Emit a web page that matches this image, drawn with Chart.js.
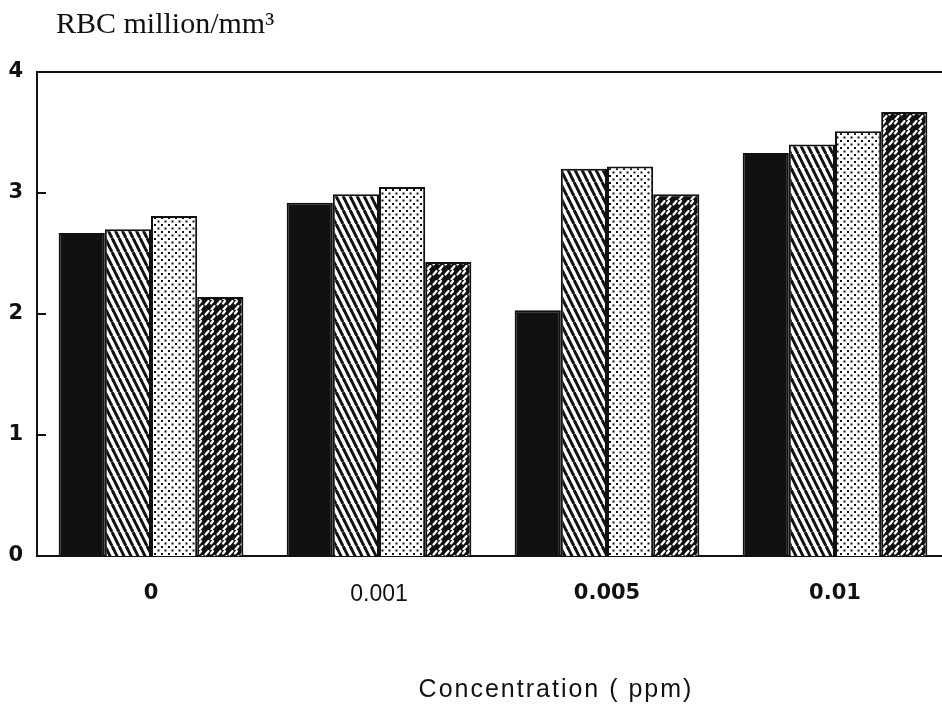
<!DOCTYPE html>
<html lang="en">
<head>
  <meta charset="UTF-8">
  <title>RBC million/mm3</title>
  <script src="https://cdn.jsdelivr.net/npm/chart.js@4.4.1/dist/chart.umd.min.js"></script>
  <style>
    html, body { margin: 0; padding: 0; background: #fff; overflow: hidden; }
    #chart-container { width: 949px; height: 709px; }
  </style>
</head>
<body>
  <div id="chart-container">
    <canvas id="chart-canvas"></canvas>
  </div>
  <script>
    // data
    const concentrations = ['0', '0.001', '0.005', '0.01'];
    const seriesSolid = [2.67, 2.92, 2.03, 3.33];
    const seriesHatched = [2.70, 2.99, 3.20, 3.40];
    const seriesDotted = [2.81, 3.05, 3.22, 3.51];
    const seriesDark = [2.14, 2.43, 2.99, 3.67];
    const yTicks = [0, 1, 2, 3, 4];

    const ink = '#111';
    const boldFont = '"DejaVu Sans", Arial, sans-serif';
    const plainFont = '"Liberation Sans", Arial, sans-serif';

    function makeTile(w, h, draw) {
      const c = document.createElement('canvas');
      c.width = w; c.height = h;
      const g = c.getContext('2d');
      draw(g, w, h);
      return document.getElementById('chart-canvas').getContext('2d').createPattern(c, 'repeat');
    }

    // white with steep "\" stripes
    const hatch = makeTile(7, 14, (g, w, h) => {
      g.fillStyle = '#fff'; g.fillRect(0, 0, w, h);
      g.strokeStyle = ink; g.lineWidth = 3;
      [-w, 0, w].forEach(o => {
        g.beginPath(); g.moveTo(o, 0); g.lineTo(o + w, h); g.stroke();
      });
    });

    // white with staggered dots
    const dots = makeTile(7, 7, (g, w, h) => {
      g.fillStyle = '#fff'; g.fillRect(0, 0, w, h);
      g.fillStyle = ink;
      g.fillRect(0, 0, 2, 2);
      g.fillRect(3.5, 3.5, 2, 2);
    });

    // black with white "/" dashes
    const dark = makeTile(12, 10, (g, w, h) => {
      g.fillStyle = ink; g.fillRect(0, 0, w, h);
      g.strokeStyle = '#fff'; g.lineWidth = 2.2; g.lineCap = 'round';
      g.beginPath(); g.moveTo(1.5, 4.5); g.lineTo(4.5, 1); g.stroke();
      g.beginPath(); g.moveTo(7.5, 9.5); g.lineTo(10.5, 6); g.stroke();
      g.beginPath(); g.moveTo(7, 3.5); g.lineTo(9, 1); g.stroke();
    });

    const frame = {
      id: 'frame',
      afterDraw(chart) {
        const { ctx, chartArea: a, scales } = chart;
        ctx.save();
        ctx.strokeStyle = ink;
        ctx.lineWidth = 2;
        ctx.beginPath();
        ctx.moveTo(a.left, a.top);
        ctx.lineTo(a.right, a.top);
        ctx.stroke();
        // inward tick marks
        yTicks.forEach(v => {
          const y = scales.y.getPixelForValue(v);
          ctx.beginPath();
          ctx.moveTo(a.left, y);
          ctx.lineTo(a.left + 9, y);
          ctx.stroke();
        });
        ctx.fillStyle = ink;
        ctx.textBaseline = 'alphabetic';
        ctx.textAlign = 'left';
        ctx.font = '30px "Liberation Serif", serif';
        ctx.fillText('RBC million/mm\u00b3', 56, 33);
        ctx.textAlign = 'center';
        ctx.font = '25px ' + plainFont;
        ctx.letterSpacing = '2px';
        ctx.fillText('Concentration ( ppm)', 556, 697);
        ctx.restore();
      }
    };

    const bar = (data, fill) => ({
      data: data,
      backgroundColor: fill,
      borderColor: ink,
      borderWidth: 2,
      categoryPercentage: 0.81,
      barPercentage: 1.0
    });

    new Chart(document.getElementById('chart-canvas'), {
      type: 'bar',
      data: {
        labels: concentrations,
        datasets: [
          bar(seriesSolid, ink),
          bar(seriesHatched, hatch),
          bar(seriesDotted, dots),
          bar(seriesDark, dark)
        ]
      },
      options: {
        responsive: true,
        maintainAspectRatio: false,
        animation: false,
        layout: { padding: { left: 0, right: 0, top: 72, bottom: 93 } },
        plugins: { legend: { display: false }, tooltip: { enabled: false } },
        scales: {
          x: {
            afterFit: s => { s.height = 60; },
            grid: { display: false },
            border: { display: true, color: ink, width: 2 },
            ticks: {
              color: ink,
              padding: 17,
              font: c => c.index === 1
                ? { family: plainFont, size: 23, weight: 'normal' }
                : { family: boldFont, size: 21, weight: 'bold' }
            }
          },
          y: {
            min: 0,
            max: 4,
            afterFit: s => { s.width = 37; },
            afterBuildTicks: s => { s.ticks = yTicks.map(v => ({ value: v })); },
            grid: { display: false, drawTicks: false },
            border: { display: true, color: ink, width: 2 },
            ticks: {
              color: ink,
              padding: 14,
              font: { family: boldFont, size: 21, weight: 'bold' }
            }
          }
        }
      },
      plugins: [frame]
    });
  </script>
</body>
</html>
